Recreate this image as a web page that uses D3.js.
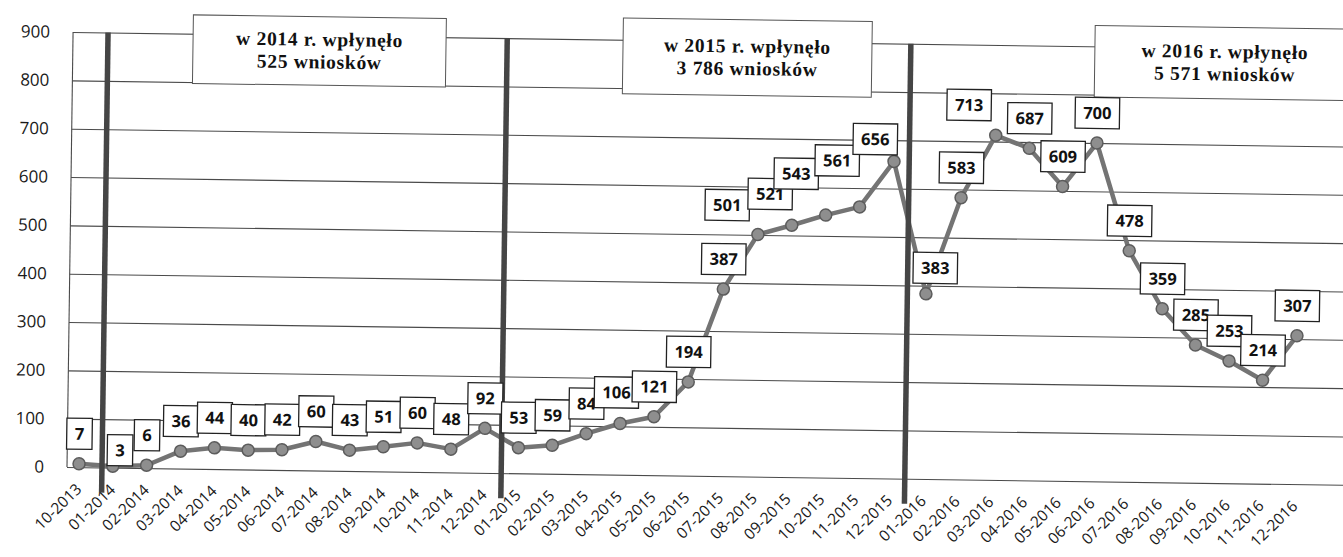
<!DOCTYPE html>
<html>
<head>
<meta charset="utf-8">
<script src="https://cdn.jsdelivr.net/npm/d3@7"></script>
<style>
  body { margin: 0; background: #fff; }
  svg { display: block; }
</style>
</head>
<body>
<svg id="chart" width="1343" height="557"></svg>
<script>
// Monthly count of applications (wnioski), 10-2013 .. 12-2016
const months = [
  '10-2013',
  '01-2014', '02-2014', '03-2014', '04-2014', '05-2014', '06-2014',
  '07-2014', '08-2014', '09-2014', '10-2014', '11-2014', '12-2014',
  '01-2015', '02-2015', '03-2015', '04-2015', '05-2015', '06-2015',
  '07-2015', '08-2015', '09-2015', '10-2015', '11-2015', '12-2015',
  '01-2016', '02-2016', '03-2016', '04-2016', '05-2016', '06-2016',
  '07-2016', '08-2016', '09-2016', '10-2016', '11-2016', '12-2016'
];
const counts = [
  7,
  3, 6, 36, 44, 40, 42, 60, 43, 51, 60, 48, 92,
  53, 59, 84, 106, 121, 194, 387, 501, 521, 543, 561, 656,
  383, 583, 713, 687, 609, 700, 478, 359, 285, 253, 214, 307
];
const yTicks = [0, 100, 200, 300, 400, 500, 600, 700, 800, 900];

// year separators, in category-index units
const yearDividers = [0.68, 12.5, 24.45];

// yearly totals shown in the boxes
const noteLines = [
  ['w 2014 r. wpłynęło', '525 wniosków'],
  ['w 2015 r. wpłynęło', '3 786 wniosków'],
  ['w 2016 r. wpłynęło', '5 571 wniosków']
];

// ---- layout (not data) ----
// note boxes anchored in index / value units: [i0, i1, vTop, vBottom]
const noteSpan = [
  [3.2, 10.69, 939, 797],
  [15.93, 23.3, 945, 788],
  [29.9, 37.6, 943, 795]
];
// data label nudges in px (default sits above the marker)
const labelNudge = {
  1: [7, -16], 16: [-4, -31], 20: [-31, -29], 21: [-22, -31],
  22: [-30, -41], 23: [-23, -46], 24: [-19, -22], 25: [9, -26],
  27: [-27, -30]
};

const svg = d3.select('#chart');
// the source is a slightly skewed scan
const g = svg.append('g').attr('transform', 'rotate(0.8, 67, 467)');

const x = d3.scaleLinear().domain([0, months.length - 1]).range([79, 1295]);
const y = d3.scaleLinear().domain([0, 900]).range([467, 32]);
const left = 67, right = 1380;

// gridlines + y labels
const yAxis = g.append('g')
  .attr('transform', `translate(${left},0)`)
  .call(d3.axisLeft(y).tickValues(yTicks).tickSize(-(right - left)).tickPadding(23));
yAxis.select('.domain').remove();
yAxis.selectAll('.tick line').attr('stroke', '#4a4a4a').attr('stroke-width', 1.1);
yAxis.selectAll('.tick text')
  .attr('fill', '#1a1a1a')
  .style('font-family', '"Open Sans", sans-serif')
  .style('font-size', '17px');

// left border
g.append('line')
  .attr('x1', left).attr('x2', left)
  .attr('y1', y(0)).attr('y2', y(900))
  .attr('stroke', '#4a4a4a').attr('stroke-width', 1.1);

// x labels
g.append('g').selectAll('text')
  .data(months)
  .join('text')
  .attr('transform', (d, i) => `translate(${x(i) + 4},${y(0) + 23}) rotate(-45)`)
  .attr('text-anchor', 'end')
  .attr('fill', '#1a1a1a')
  .style('font-family', '"Open Sans", sans-serif')
  .style('font-size', '15.5px')
  .text(d => d);

// yearly note boxes
noteLines.forEach((lines, k) => {
  const [i0, i1, vt, vb] = noteSpan[k];
  const bx = x(i0), bw = x(i1) - x(i0);
  const by = y(vt), bh = y(vb) - y(vt);
  const cy = by + bh / 2;
  g.append('rect')
    .attr('x', bx).attr('y', by).attr('width', bw).attr('height', bh)
    .attr('fill', '#fff').attr('stroke', '#555').attr('stroke-width', 1);
  g.append('g').selectAll('text')
    .data(lines)
    .join('text')
    .attr('x', bx + bw / 2)
    .attr('y', (d, j) => cy - 5 + j * 22.5)
    .attr('text-anchor', 'middle')
    .attr('fill', '#111')
    .style('font-family', '"Liberation Serif", "Times New Roman", serif')
    .style('font-weight', 'bold')
    .style('font-size', '19.5px')
    .style('letter-spacing', '0.7px')
    .text(d => d);
});

// series line
const line = d3.line().x((d, i) => x(i)).y(d => y(d));
g.append('path')
  .datum(counts)
  .attr('d', line)
  .attr('fill', 'none')
  .attr('stroke', '#747474')
  .attr('stroke-width', 4.5)
  .attr('stroke-linejoin', 'round');

g.append('g').selectAll('circle')
  .data(counts)
  .join('circle')
  .attr('cx', (d, i) => x(i))
  .attr('cy', d => y(d))
  .attr('r', 6)
  .attr('fill', '#8e8e8e')
  .attr('stroke', '#5c5c5c')
  .attr('stroke-width', 1.5);

// year dividers
g.append('g').selectAll('line')
  .data(yearDividers)
  .join('line')
  .attr('x1', d => x(d)).attr('x2', d => x(d))
  .attr('y1', y(900)).attr('y2', y(-52))
  .attr('stroke', '#454545')
  .attr('stroke-width', 5.5);

// data labels (boxed)
const labels = g.append('g');
counts.forEach((v, i) => {
  const [dx, dy] = labelNudge[i] || [0, -30];
  const cx = x(i) + dx, cy = y(v) + dy;
  const lg = labels.append('g').attr('transform', `translate(${cx},${cy})`);
  const rect = lg.append('rect');
  const t = lg.append('text')
    .attr('text-anchor', 'middle')
    .attr('dy', '0.36em')
    .attr('fill', '#111')
    .style('font-family', '"Open Sans", sans-serif')
    .style('font-weight', 'bold')
    .style('font-size', '16.5px')
    .text(v);
  const w = t.node().getComputedTextLength() + 16;
  rect.attr('x', -w / 2).attr('y', -15.5)
    .attr('width', w).attr('height', 31)
    .attr('fill', '#fff')
    .attr('stroke', '#222')
    .attr('stroke-width', 1.3);
});
</script>
</body>
</html>
